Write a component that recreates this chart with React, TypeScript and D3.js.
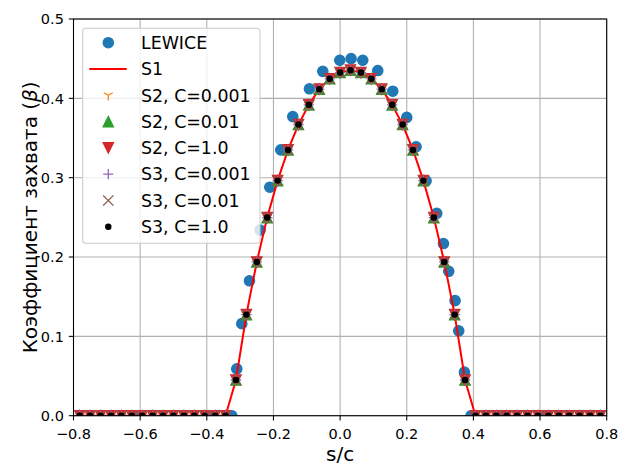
import React from 'react';
import * as d3 from 'd3';

// grid of s/c values for the simulated series (S1, S2, S3)
const sGrid = [
  -0.78125, -0.75, -0.71875, -0.6875, -0.65625, -0.625, -0.59375, -0.5625, -0.53125, -0.5,
  -0.46875, -0.4375, -0.40625, -0.375, -0.34375, -0.3125, -0.28125, -0.25, -0.21875, -0.1875,
  -0.15625, -0.125, -0.09375, -0.0625, -0.03125, 0, 0.03125, 0.0625, 0.09375, 0.125,
  0.15625, 0.1875, 0.21875, 0.25, 0.28125, 0.3125, 0.34375, 0.375, 0.40625, 0.4375,
  0.46875, 0.5, 0.53125, 0.5625, 0.59375, 0.625, 0.65625, 0.6875, 0.71875, 0.75, 0.78125,
];

const betaS1 = [
  0, 0, 0, 0, 0, 0, 0, 0, 0, 0,
  0, 0, 0, 0, 0, 0.045, 0.1274, 0.1938, 0.2497, 0.2963,
  0.335, 0.367, 0.3918, 0.4116, 0.4246, 0.4325, 0.4355, 0.4325, 0.4246, 0.4116,
  0.3918, 0.367, 0.335, 0.2963, 0.2497, 0.1938, 0.1274, 0.045, 0, 0,
  0, 0, 0, 0, 0, 0, 0, 0, 0, 0, 0,
];
const betaS2C0001 = [...betaS1];
const betaS2C001 = [...betaS1];
const betaS2C1 = [...betaS1];
const betaS3C0001 = [...betaS1];
const betaS3C001 = [...betaS1];
const betaS3C1 = [...betaS1];

const lewiceS = [
  -0.6, -0.4, -0.325, -0.31, -0.295, -0.272, -0.24, -0.211, -0.178, -0.142,
  -0.092, -0.052, -0.001, 0.033, 0.068, 0.113, 0.158, 0.2, 0.228, 0.258,
  0.29, 0.31, 0.326, 0.345, 0.356, 0.373, 0.393, 0.495, 0.6,
];
const lewiceBeta = [
  0, 0, 0, 0.059, 0.116, 0.17, 0.234, 0.288, 0.335, 0.377,
  0.412, 0.434, 0.448, 0.45, 0.448, 0.435, 0.409, 0.376, 0.339, 0.296,
  0.255, 0.217, 0.182, 0.145, 0.107, 0.055, 0, 0, 0,
];

const xTicks = [-0.8, -0.6, -0.4, -0.2, 0.0, 0.2, 0.4, 0.6, 0.8];
const yTicks = [0.0, 0.1, 0.2, 0.3, 0.4, 0.5];

const legendLabels = ['LEWICE', 'S1', 'S2, C=0.001', 'S2, C=0.01', 'S2, C=1.0', 'S3, C=0.001', 'S3, C=0.01', 'S3, C=1.0'];

const W = 618, H = 465;
const L = 73.5, R = 606.7, T = 19, B = 415.7;
const FONT = 'DejaVu Sans, sans-serif';
const MS = 10.3; // marker size px
const EW = 1.3;

const C = {
  blue: '#1f77b4', orange: '#ff7f0e', green: '#2ca02c', red: '#d62728',
  purple: '#9467bd', brown: '#8c564b', line: '#ff0000', black: '#000000',
};

type Kind = 'circle' | 'tri_down1' | 'tri_up' | 'tri_down' | 'plus' | 'x' | 'point';

function Marker({ kind, x, y, color }: { kind: Kind; x: number; y: number; color: string }) {
  const h = MS / 2;
  switch (kind) {
    case 'circle':
      return <circle cx={x} cy={y} r={h} fill={color} stroke={color} strokeWidth={EW} />;
    case 'point':
      return <circle cx={x} cy={y} r={h / 2} fill={color} stroke={color} strokeWidth={EW} />;
    case 'tri_up':
      return <path d={`M${x},${y - h}L${x - h},${y + h}L${x + h},${y + h}Z`} fill={color} stroke={color} strokeWidth={EW} strokeLinejoin="miter" />;
    case 'tri_down':
      return <path d={`M${x},${y + h}L${x - h},${y - h}L${x + h},${y - h}Z`} fill={color} stroke={color} strokeWidth={EW} strokeLinejoin="miter" />;
    case 'tri_down1':
      return <path d={`M${x},${y}L${x},${y + h}M${x},${y}L${x + 0.866 * h},${y - 0.5 * h}M${x},${y}L${x - 0.866 * h},${y - 0.5 * h}`} fill="none" stroke={color} strokeWidth={EW} />;
    case 'plus':
      return <path d={`M${x - h},${y}L${x + h},${y}M${x},${y - h}L${x},${y + h}`} fill="none" stroke={color} strokeWidth={EW} />;
    case 'x':
      return <path d={`M${x - h},${y - h}L${x + h},${y + h}M${x - h},${y + h}L${x + h},${y - h}`} fill="none" stroke={color} strokeWidth={EW} />;
  }
  return null;
}

export default function App() {
  const xs = d3.scaleLinear().domain([-0.8, 0.8]).range([L, R]);
  const ys = d3.scaleLinear().domain([0, 0.5]).range([B, T]);
  const line = d3.line<number>().x((_, i) => xs(sGrid[i])).y((d) => ys(d));

  const markerSeries: { data: number[]; kind: Kind; color: string }[] = [
    { data: betaS2C0001, kind: 'tri_down1', color: C.orange },
    { data: betaS2C001, kind: 'tri_up', color: C.green },
    { data: betaS2C1, kind: 'tri_down', color: C.red },
    { data: betaS3C0001, kind: 'plus', color: C.purple },
    { data: betaS3C001, kind: 'x', color: C.brown },
    { data: betaS3C1, kind: 'point', color: C.black },
  ];

  const legendKinds: (Kind | 'line')[] = ['circle', 'line', 'tri_down1', 'tri_up', 'tri_down', 'plus', 'x', 'point'];
  const legendColors = [C.blue, C.line, C.orange, C.green, C.red, C.purple, C.brown, C.black];
  const lgX = 82.7, lgY = 28.3, lgW = 177.3, lgH = 215;
  const rowY0 = 42.7, rowDy = 26.3;

  return (
    <svg width={W} height={H} style={{ position: 'absolute', left: 0, top: 0, background: '#fff' }} fontFamily={FONT}>
      <defs>
        <clipPath id="plotclip">
          <rect x={L} y={T} width={R - L} height={B - T} />
        </clipPath>
      </defs>
      <rect x={0} y={0} width={W} height={H} fill="#fff" />
      {/* grid */}
      <g stroke="#b0b0b0" strokeWidth={1.07}>
        {xTicks.map((t) => (
          <line key={'gx' + t} x1={xs(t)} x2={xs(t)} y1={T} y2={B} />
        ))}
        {yTicks.map((t) => (
          <line key={'gy' + t} x1={L} x2={R} y1={ys(t)} y2={ys(t)} />
        ))}
      </g>
      {/* data */}
      <g clipPath="url(#plotclip)">
        {lewiceS.map((s, i) => (
          <Marker key={'lw' + i} kind="circle" x={xs(s)} y={ys(lewiceBeta[i])} color={C.blue} />
        ))}
        <path d={line(betaS1) || ''} fill="none" stroke={C.line} strokeWidth={2} strokeLinejoin="round" />
        {markerSeries.map((ser, si) => (
          <g key={'ser' + si}>
            {ser.data.map((b, i) => (
              <Marker key={i} kind={ser.kind} x={xs(sGrid[i])} y={ys(b)} color={ser.color} />
            ))}
          </g>
        ))}
      </g>
      {/* spines */}
      <rect x={L} y={T} width={R - L} height={B - T} fill="none" stroke="#000" strokeWidth={1.07} />
      {/* ticks */}
      <g stroke="#000" strokeWidth={1.07}>
        {xTicks.map((t) => (
          <line key={'tx' + t} x1={xs(t)} x2={xs(t)} y1={B} y2={B + 4.7} />
        ))}
        {yTicks.map((t) => (
          <line key={'ty' + t} x1={L} x2={L - 4.7} y1={ys(t)} y2={ys(t)} />
        ))}
      </g>
      <g fontSize={14.5} fill="#000">
        {xTicks.map((t) => (
          <text key={'lx' + t} x={xs(t)} y={439} textAnchor="middle">
            {d3.format('.1f')(t).replace('-', '\u2212')}
          </text>
        ))}
        {yTicks.map((t) => (
          <text key={'ly' + t} x={L - 9.6} y={ys(t)} dy="0.36em" textAnchor="end">
            {d3.format('.1f')(t)}
          </text>
        ))}
      </g>
      <text x={(L + R) / 2} y={460.5} fontSize={20} textAnchor="middle">s/c</text>
      <text transform={`translate(36.7, ${(T + B) / 2}) rotate(-90)`} fontSize={20} textAnchor="middle">
        Коэффициент захвата (<tspan fontStyle="italic">β</tspan>)
      </text>
      {/* legend */}
      <rect x={lgX} y={lgY} width={lgW} height={lgH} rx={3} ry={3} fill="#fff" fillOpacity={0.8} stroke="#cccccc" strokeWidth={1.07} />
      {legendLabels.map((lab, i) => {
        const cy = rowY0 + i * rowDy;
        const k = legendKinds[i];
        return (
          <g key={'lg' + i}>
            {k === 'line' ? (
              <line x1={89.3} x2={126.7} y1={cy} y2={cy} stroke={legendColors[i]} strokeWidth={2} />
            ) : (
              <Marker kind={k as Kind} x={108.3} y={cy} color={legendColors[i]} />
            )}
            <text x={141} y={cy} dy="0.36em" fontSize={17.4} fill="#000">{lab}</text>
          </g>
        );
      })}
    </svg>
  );
}
